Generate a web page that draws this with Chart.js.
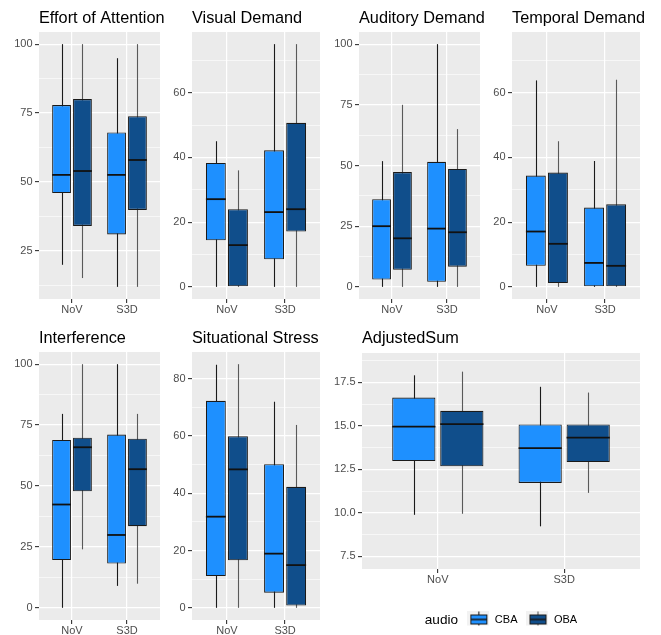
<!DOCTYPE html>
<html>
<head>
<meta charset="utf-8">
<script src="https://cdn.jsdelivr.net/npm/chart.js@4.4.0/dist/chart.umd.min.js"></script>
<style>
  html, body { margin: 0; padding: 0; background: #fff; overflow: hidden; }
  #wrap { position: relative; width: 661px; height: 635px; }
  #wrap canvas { position: absolute; }
</style>
</head>
<body>
<div id="wrap"></div>
<script>
const categories = ['NoV', 'S3D'];
const audioGroups = ['CBA', 'OBA'];
const audioColors = ['#1E90FF', '#104E8B'];
const whiskerColors = ['#1A1A1A', '#595959'];

// one row per category: [lower whisker, Q1, median, Q3, upper whisker]
const effortCBA = [[20, 46, 52.6, 77.9, 100], [12, 31, 52.6, 68, 94.9]];
const effortOBA = [[15.2, 34.1, 54, 80.1, 100], [12, 39.9, 58, 73.9, 100]];
const visualCBA = [[0, 14.4, 27.1, 38.3, 45], [0, 8.5, 23.1, 42.2, 75]];
const visualOBA = [[0, 0, 12.9, 24, 36], [0, 17.1, 24, 50.7, 75]];
const auditoryCBA = [[0, 3, 25, 36.1, 51.8], [0, 2.1, 24, 51.5, 100]];
const auditoryOBA = [[0, 7, 20, 47.3, 75], [0, 8.3, 22.5, 48.6, 65]];
const temporalCBA = [[0, 6.5, 17.1, 34.4, 63.8], [0, 0, 7.4, 24.5, 38.9]];
const temporalOBA = [[0, 1.2, 13.3, 35.3, 45], [0, 0, 6.5, 25.5, 64]];
const interferenceCBA = [[0, 19.6, 42.4, 68.9, 79.6], [9, 18.2, 29.9, 71.1, 100]];
const interferenceOBA = [[24, 47.8, 65.9, 69.8, 100], [9.9, 33.5, 56.9, 69.4, 79.6]];
const stressCBA = [[0, 11.1, 31.8, 72.2, 84.8], [0, 5.3, 18.9, 50.1, 71.9]];
const stressOBA = [[0, 16.6, 48.3, 59.9, 85], [0, 0.8, 14.9, 42.2, 63.8]];
const sumCBA = [[9.89, 12.98, 14.95, 16.62, 17.9], [9.23, 11.72, 13.72, 15.08, 17.24]];
const sumOBA = [[9.95, 12.68, 15.1, 15.86, 18.11], [11.15, 12.92, 14.32, 15.08, 16.91]];

// y axis limits and labelled ticks
const effortRange = [7.6, 104.4];
const effortTicks = [25, 50, 75, 100];
const demandRange = [-3.75, 78.75];
const demandTicks = [0, 20, 40, 60];
const percentRange = [-5, 105];
const percentTicks = [0, 25, 50, 75, 100];
const stressRange = [-4.25, 89.25];
const stressTicks = [0, 20, 40, 60, 80];
const sumRange = [6.78, 19.18];
const sumTicks = [7.5, 10, 12.5, 15, 17.5];

const FONT = '"Liberation Sans", Arial, Helvetica, sans-serif';
Chart.defaults.font.family = FONT;
Chart.defaults.animation = false;

const panels = [
  { title: 'Effort of Attention', cba: effortCBA, oba: effortOBA, range: effortRange, ticks: effortTicks, dec: 0,
    left: 0, top: 0, w: 175, h: 320, axisW: 39, padR: 15, padT: 32, xAxisH: 21 },
  { title: 'Visual Demand', cba: visualCBA, oba: visualOBA, range: demandRange, ticks: demandTicks, dec: 0,
    left: 160, top: 0, w: 175, h: 320, axisW: 32, padR: 15, padT: 32, xAxisH: 21 },
  { title: 'Auditory Demand', cba: auditoryCBA, oba: auditoryOBA, range: percentRange, ticks: percentTicks, dec: 0,
    left: 320, top: 0, w: 175, h: 320, axisW: 39, padR: 15, padT: 32, xAxisH: 21 },
  { title: 'Temporal Demand', cba: temporalCBA, oba: temporalOBA, range: demandRange, ticks: demandTicks, dec: 0,
    left: 480, top: 0, w: 181, h: 320, axisW: 32, padR: 21, padT: 32, xAxisH: 21 },
  { title: 'Interference', cba: interferenceCBA, oba: interferenceOBA, range: percentRange, ticks: percentTicks, dec: 0,
    left: 0, top: 320, w: 175, h: 315, axisW: 39, padR: 15, padT: 32, xAxisH: 15 },
  { title: 'Situational Stress', cba: stressCBA, oba: stressOBA, range: stressRange, ticks: stressTicks, dec: 0,
    left: 160, top: 320, w: 175, h: 315, axisW: 32, padR: 15, padT: 32, xAxisH: 15 },
  { title: 'AdjustedSum', cba: sumCBA, oba: sumOBA, range: sumRange, ticks: sumTicks, dec: 1,
    left: 320, top: 320, w: 341, h: 315, axisW: 42, padR: 21, padT: 33, xAxisH: 46, legend: true }
];

// grey panel background + facet title
const panelPlugin = {
  id: 'panel',
  beforeDraw(chart, args, opts) {
    const a = chart.chartArea, ctx = chart.ctx;
    ctx.save();
    ctx.fillStyle = '#EBEBEB';
    ctx.fillRect(a.left, a.top, a.right - a.left, a.bottom - a.top);
    ctx.restore();
  },
  afterDraw(chart, args, opts) {
    const ctx = chart.ctx;
    ctx.save();
    ctx.font = '16.3px ' + FONT;
    ctx.fillStyle = '#000000';
    ctx.textAlign = 'left';
    ctx.textBaseline = 'alphabetic';
    ctx.fillText(opts.text, chart.chartArea.left, 23.2);
    ctx.restore();
  }
};

// whiskers behind the boxes, medians on top
const boxPlugin = {
  id: 'boxParts',
  beforeDatasetsDraw(chart) {
    const ctx = chart.ctx, y = chart.scales.y;
    chart.data.datasets.forEach((ds, di) => {
      chart.getDatasetMeta(di).data.forEach((bar, i) => {
        const s = ds.stats[i];
        const x = Math.round(bar.x) + 0.5;
        ctx.save();
        ctx.strokeStyle = ds.whiskerColor;
        ctx.lineWidth = 1.1;
        ctx.beginPath();
        ctx.moveTo(x, y.getPixelForValue(s[0]));
        ctx.lineTo(x, y.getPixelForValue(s[4]));
        ctx.stroke();
        ctx.restore();
      });
    });
  },
  afterDatasetsDraw(chart) {
    const ctx = chart.ctx, y = chart.scales.y;
    chart.data.datasets.forEach((ds, di) => {
      chart.getDatasetMeta(di).data.forEach((bar, i) => {
        const m = y.getPixelForValue(ds.stats[i][2]);
        ctx.save();
        ctx.strokeStyle = '#111111';
        ctx.lineWidth = 1.8;
        ctx.beginPath();
        ctx.moveTo(bar.x - bar.width / 2, m);
        ctx.lineTo(bar.x + bar.width / 2, m);
        ctx.stroke();
        ctx.restore();
      });
    });
  }
};

// legend title "audio" to the left of the keys, whole group centred under the panel
const AUDIO_GAP = 9.3;
const AUDIO_FONT = '13.6px ' + FONT;
const legendTitlePlugin = {
  id: 'legendTitle',
  afterLayout(chart) {
    const lg = chart.legend;
    const ctx = chart.ctx;
    ctx.save();
    ctx.font = AUDIO_FONT;
    const shift = (ctx.measureText('audio').width + AUDIO_GAP) / 2;
    ctx.restore();
    lg.left += shift;
    lg.right += shift;
    const h = lg.bottom - lg.top;
    lg.top = 285.5;
    lg.bottom = lg.top + h;
  },
  afterDraw(chart) {
    const hb = chart.legend.legendHitBoxes[0];
    const ctx = chart.ctx;
    ctx.save();
    ctx.font = AUDIO_FONT;
    ctx.fillStyle = '#000000';
    ctx.textAlign = 'right';
    ctx.textBaseline = 'middle';
    ctx.fillText('audio', hb.left - AUDIO_GAP, hb.top + hb.height / 2);
    ctx.restore();
  }
};

function keyGlyph(fill, whisker) {
  const c = document.createElement('canvas');
  c.width = 22; c.height = 19;
  const g = c.getContext('2d');
  g.fillStyle = '#F2F2F2';
  g.fillRect(0, 0, 22, 19);
  g.strokeStyle = whisker;
  g.lineWidth = 1.1;
  g.beginPath(); g.moveTo(11.5, 1); g.lineTo(11.5, 18); g.stroke();
  g.fillStyle = fill;
  g.fillRect(3, 4, 17, 10);
  g.strokeStyle = '#1A1A1A';
  g.lineWidth = 1;
  g.strokeRect(3.5, 4.5, 16, 9);
  g.lineWidth = 1.6;
  g.beginPath(); g.moveTo(3, 9); g.lineTo(20, 9); g.stroke();
  return c;
}
const keyGlyphs = audioGroups.map((g, i) => keyGlyph(audioColors[i], whiskerColors[i]));

function minorTicks(major, range) {
  const step = major[1] - major[0];
  const out = [];
  for (let v = major[0] - step / 2; v <= range[1]; v += step) {
    if (v >= range[0] && !major.includes(v)) out.push(v);
  }
  return out;
}

const wrap = document.getElementById('wrap');

panels.forEach(p => {
  const canvas = document.createElement('canvas');
  canvas.width = p.w; canvas.height = p.h;
  canvas.style.left = p.left + 'px';
  canvas.style.top = p.top + 'px';
  canvas.style.width = p.w + 'px';
  canvas.style.height = p.h + 'px';
  wrap.appendChild(canvas);

  const allTicks = p.ticks.concat(minorTicks(p.ticks, p.range)).sort((a, b) => a - b);
  const isMajor = v => p.ticks.includes(v);

  const plugins = [panelPlugin, boxPlugin];
  if (p.legend) plugins.push(legendTitlePlugin);

  new Chart(canvas, {
    type: 'bar',
    data: {
      datasets: audioGroups.map((g, gi) => {
        const stats = gi === 0 ? p.cba : p.oba;
        return {
          label: g,
          data: stats.map((s, ci) => ({ x: ci + 1, y: [s[1], s[3]] })),
          stats: stats,
          whiskerColor: whiskerColors[gi],
          backgroundColor: audioColors[gi],
          borderColor: '#1A1A1A',
          borderWidth: 1.1,
          borderSkipped: false,
          categoryPercentage: 0.76,
          barPercentage: 0.9
        };
      })
    },
    options: {
      responsive: false,
      devicePixelRatio: 1,
      layout: { padding: { top: p.padT, right: p.padR, left: 0, bottom: 0 } },
      scales: {
        x: {
          type: 'linear',
          min: 0.4,
          max: 2.6,
          offset: false,
          afterBuildTicks: axis => { axis.ticks = categories.map((c, i) => ({ value: i + 1 })); },
          afterFit: axis => { axis.height = p.xAxisH; },
          ticks: {
            callback: v => categories[v - 1],
            color: '#4D4D4D',
            font: { size: 11 },
            padding: 0,
            autoSkip: false,
            maxRotation: 0
          },
          grid: { offset: false, color: '#FFFFFF', lineWidth: 1.2, tickLength: 4, tickColor: '#333333', tickWidth: 1.1 },
          border: { display: false }
        },
        y: {
          min: p.range[0],
          max: p.range[1],
          beginAtZero: false,
          afterBuildTicks: axis => { axis.ticks = allTicks.map(v => ({ value: v })); },
          afterFit: axis => { axis.width = p.axisW; },
          ticks: {
            callback: v => isMajor(v) ? v.toFixed(p.dec) : '',
            color: '#4D4D4D',
            font: { size: 11 },
            padding: 2.5,
            autoSkip: false
          },
          grid: {
            color: '#FFFFFF',
            lineWidth: c => isMajor(c.tick.value) ? 1.2 : 0.6,
            tickLength: 4,
            tickColor: c => isMajor(c.tick.value) ? '#333333' : 'rgba(0,0,0,0)',
            tickWidth: 1.1
          },
          border: { display: false }
        }
      },
      plugins: {
        panel: { text: p.title },
        tooltip: { enabled: false },
        legend: p.legend ? {
          display: true,
          position: 'bottom',
          fullSize: false,
          maxHeight: 20,
          onClick: () => {},
          labels: {
            usePointStyle: true,
            pointStyleWidth: 22,
            boxHeight: 11,
            padding: 9,
            font: { size: 11 },
            color: '#000000',
            generateLabels: () => audioGroups.map((g, i) => ({
              text: g,
              pointStyle: keyGlyphs[i],
              fillStyle: audioColors[i],
              strokeStyle: '#1A1A1A',
              fontColor: '#000000',
              lineWidth: 0,
              hidden: false,
              datasetIndex: i
            }))
          }
        } : { display: false }
      }
    },
    plugins: plugins
  });
});
</script>
</body>
</html>
